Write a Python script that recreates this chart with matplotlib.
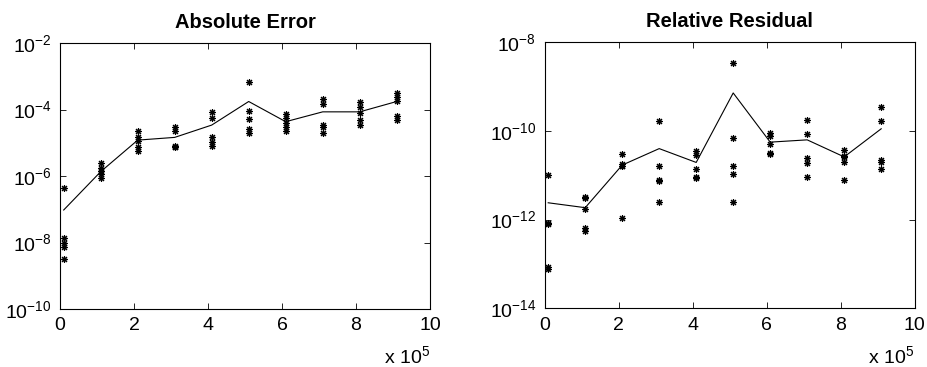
import numpy as np
import matplotlib
matplotlib.use('Agg')
import matplotlib.pyplot as plt
from matplotlib.ticker import FixedLocator, FuncFormatter, NullLocator

plt.rcParams['font.family'] = 'Liberation Sans'
plt.rcParams['mathtext.fontset'] = 'custom'
plt.rcParams['mathtext.rm'] = 'Liberation Sans'
plt.rcParams['mathtext.it'] = 'Liberation Sans'
plt.rcParams['mathtext.bf'] = 'Liberation Sans:bold'

# problem sizes (x positions of each column of runs)
sizes = [1e4, 1.1e5, 2.1e5, 3.1e5, 4.1e5, 5.1e5, 6.1e5, 7.1e5, 8.1e5, 9.1e5]

# absolute error, 5 runs per size
abs_err = [
    [4.5e-7, 1.35e-8, 1.0e-8, 7.4e-9, 3.2e-9],
    [2.4e-6, 1.8e-6, 1.45e-6, 1.15e-6, 8.5e-7],
    [2.3e-5, 1.45e-5, 1.12e-5, 7.2e-6, 5.8e-6],
    [3.0e-5, 2.3e-5, 8.1e-6, 7.6e-6, 7.2e-6],
    [8.5e-5, 5.6e-5, 1.45e-5, 1.07e-5, 8.1e-6],
    [6.9e-4, 9.1e-5, 5.2e-5, 2.6e-5, 1.9e-5],
    [7.2e-5, 5.5e-5, 4.0e-5, 3.0e-5, 2.3e-5],
    [2.0e-4, 1.5e-4, 3.4e-5, 3.0e-5, 2.0e-5],
    [1.74e-4, 1.17e-4, 7.9e-5, 4.8e-5, 3.4e-5],
    [3.1e-4, 2.45e-4, 1.8e-4, 6.3e-5, 5.0e-5],
]
abs_err_line = [9.5e-8, 1.35e-6, 1.2e-5, 1.45e-5, 3.4e-5,
                1.74e-4, 4.3e-5, 8.5e-5, 8.5e-5, 1.74e-4]

# relative residual, 5 runs per size
rel_res = [
    [1.02e-11, 8.5e-13, 7.9e-13, 8.5e-14, 7.6e-14],
    [3.3e-12, 3.1e-12, 1.74e-12, 6.5e-13, 5.6e-13],
    [3.0e-11, 1.78e-11, 1.66e-11, 1.58e-11, 1.1e-12],
    [1.66e-10, 1.58e-11, 7.9e-12, 7.6e-12, 2.5e-12],
    [3.5e-11, 2.9e-11, 1.4e-11, 9.3e-12, 8.7e-12],
    [3.5e-9, 7.1e-11, 1.58e-11, 1.07e-11, 2.5e-12],
    [8.9e-11, 7.8e-11, 5.1e-11, 3.2e-11, 3.1e-11],
    [1.78e-10, 8.7e-11, 2.45e-11, 1.9e-11, 9.3e-12],
    [3.8e-11, 2.75e-11, 2.6e-11, 1.95e-11, 7.9e-12],
    [3.5e-10, 1.66e-10, 2.24e-11, 2.04e-11, 1.38e-11],
]
rel_res_line = [2.4e-12, 1.86e-12, 1.7e-11, 4.0e-11, 1.95e-11,
                7.2e-10, 5.6e-11, 6.3e-11, 2.6e-11, 1.12e-10]

x_ticks = [0, 2e5, 4e5, 6e5, 8e5, 10e5]


def panel(ax, pts, line, title, ylim, yticks):
    for x, vals in zip(sizes, pts):
        ax.plot([x] * len(vals), vals, linestyle='none', marker=(8, 2, 0),
                color='k', markersize=5, markeredgewidth=0.8)
    ax.plot(sizes, line, color='k', linewidth=0.8)
    ax.set_yscale('log')
    ax.set_xlim(0, 10e5)
    ax.set_ylim(*ylim)
    ax.yaxis.set_major_locator(FixedLocator(yticks))
    ax.yaxis.set_minor_locator(NullLocator())
    ax.xaxis.set_major_locator(FixedLocator(x_ticks))
    ax.xaxis.set_major_formatter(FuncFormatter(lambda v, p: '%d' % round(v / 1e5)))
    ax.tick_params(direction='in', top=True, right=True, length=4,
                   width=0.6, labelsize=14, pad=6)
    for s in ax.spines.values():
        s.set_linewidth(0.8)
    ax.set_title(title, fontsize=14.5, fontweight='bold', pad=11)
    ax.text(1.0, -0.205, r'x $10^5$', transform=ax.transAxes, ha='right',
            va='baseline', fontsize=14)


fig = plt.figure(figsize=(9.27, 3.67), dpi=100)
ax1 = fig.add_axes([60 / 927, 58 / 367, 370 / 927, 266 / 367])
ax2 = fig.add_axes([544.5 / 927, 58.7 / 367, 370 / 927, 266 / 367])

panel(ax1, abs_err, abs_err_line, 'Absolute Error', (1e-10, 1e-2),
      [1e-10, 1e-8, 1e-6, 1e-4, 1e-2])
panel(ax2, rel_res, rel_res_line, 'Relative Residual', (1e-14, 1e-8),
      [1e-14, 1e-12, 1e-10, 1e-8])

fig.savefig('out.png', dpi=100)
